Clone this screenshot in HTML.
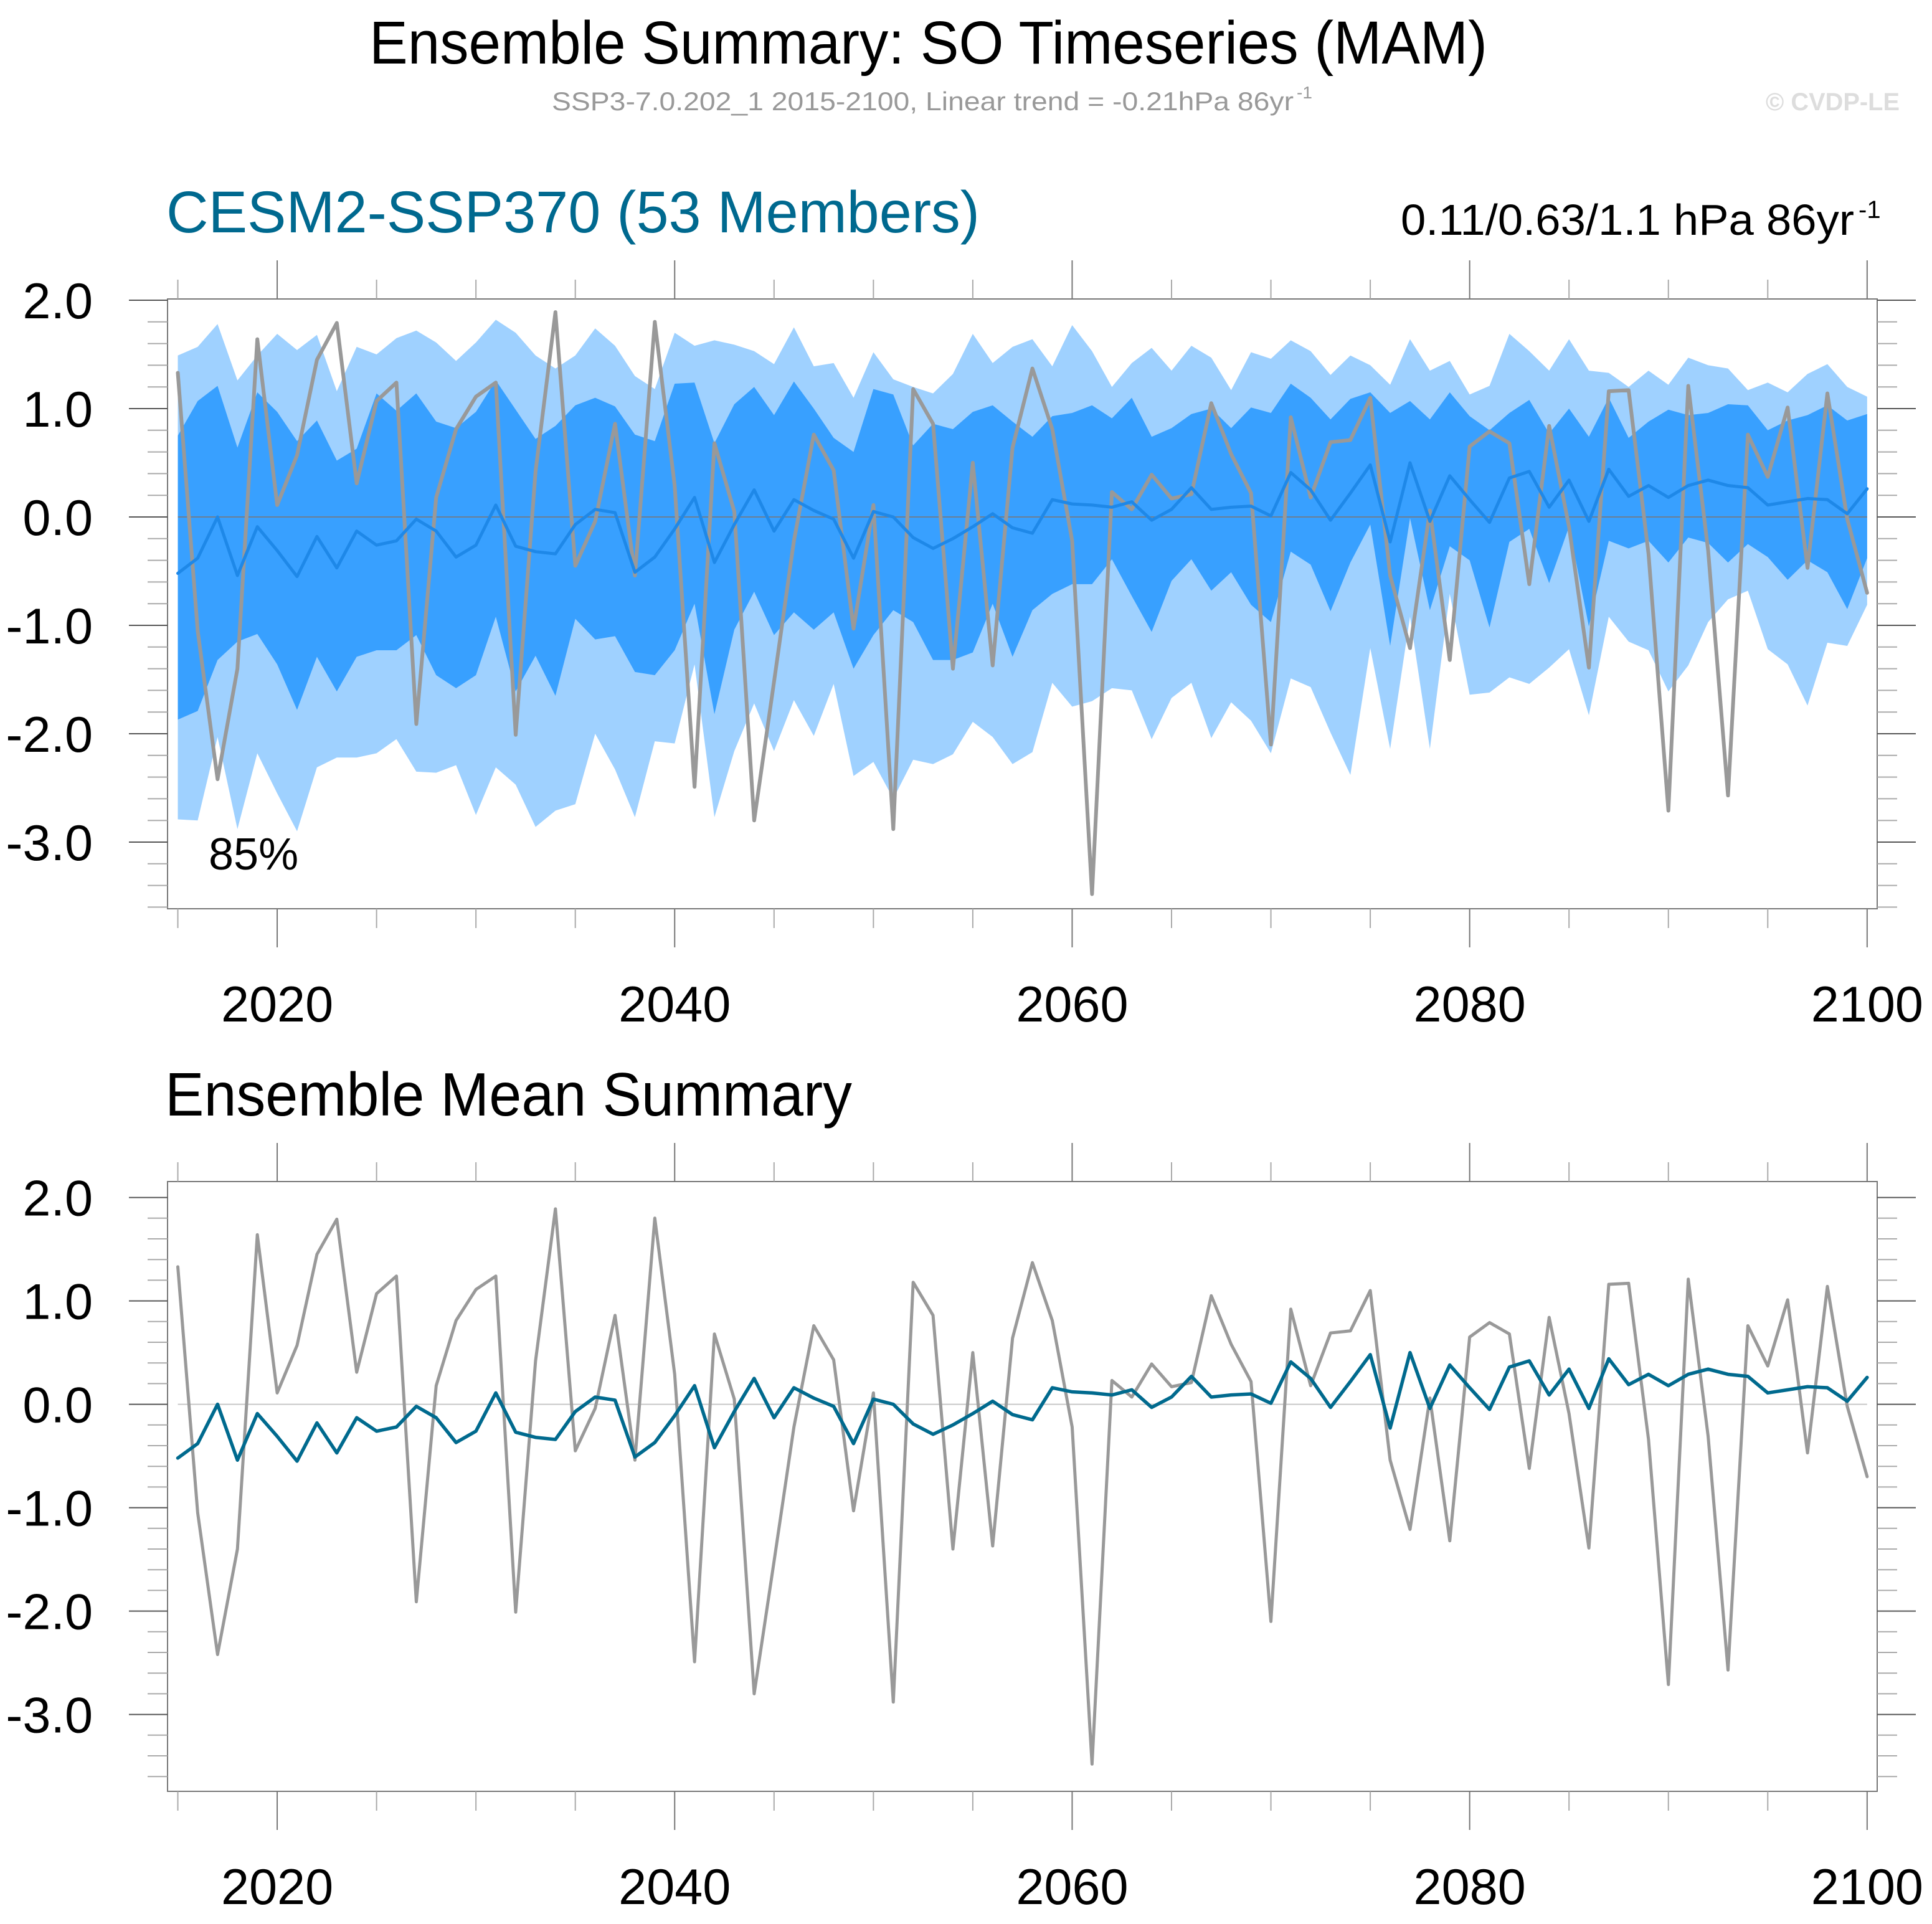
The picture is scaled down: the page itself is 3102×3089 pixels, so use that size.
<!DOCTYPE html>
<html><head><meta charset="utf-8"><style>
html,body{margin:0;padding:0;background:#fff;}
svg{display:block;font-family:"Liberation Sans",Arial,sans-serif;}
</style></head><body>
<svg id="chart" width="3102" height="3089" viewBox="0 0 3102 3089" xmlns="http://www.w3.org/2000/svg">
<text x="593" y="102" font-size="97" textLength="1795" lengthAdjust="spacingAndGlyphs">Ensemble Summary: SO Timeseries (MAM)</text>
<text x="886" y="177" font-size="42" fill="#999" textLength="1191" lengthAdjust="spacingAndGlyphs">SSP3-7.0.202_1 2015-2100, Linear trend = -0.21hPa 86yr</text>
<text x="2082" y="158" font-size="28" fill="#999">-1</text>
<text x="2835" y="177" font-size="40" font-weight="bold" fill="#ddd" textLength="215" lengthAdjust="spacingAndGlyphs">© CVDP-LE</text>
<text x="267" y="373" font-size="95" fill="#00698f" textLength="1306" lengthAdjust="spacingAndGlyphs">CESM2-SSP370 (53 Members)</text>
<text x="2249" y="377" font-size="70" textLength="728" lengthAdjust="spacingAndGlyphs">0.11/0.63/1.1 hPa 86yr</text>
<text x="2984" y="350" font-size="40">-1</text>
<text x="265" y="1791" font-size="98" textLength="1103" lengthAdjust="spacingAndGlyphs">Ensemble Mean Summary</text>
<g id="upper"></g>
<g id="lower"></g>
</svg>
<script>
const years = [];
for (let y = 2015; y <= 2100; y++) years.push(y);
const lightTop = [1.49,1.57,1.78,1.26,1.49,1.69,1.54,1.68,1.16,1.57,1.50,1.65,1.72,1.61,1.44,1.61,1.82,1.70,1.49,1.37,1.49,1.74,1.58,1.30,1.18,1.70,1.58,1.63,1.59,1.53,1.41,1.75,1.39,1.42,1.10,1.52,1.27,1.20,1.14,1.32,1.69,1.42,1.57,1.64,1.39,1.77,1.53,1.20,1.42,1.56,1.35,1.58,1.47,1.17,1.52,1.46,1.63,1.53,1.31,1.49,1.40,1.22,1.64,1.35,1.44,1.13,1.21,1.69,1.53,1.35,1.64,1.35,1.33,1.20,1.35,1.22,1.47,1.40,1.37,1.17,1.24,1.15,1.32,1.41,1.20,1.11];
const darkTop = [0.75,1.07,1.21,0.64,1.15,0.97,0.70,0.89,0.52,0.63,1.14,0.98,1.14,0.88,0.82,0.97,1.26,0.99,0.72,0.84,1.03,1.10,1.02,0.76,0.70,1.23,1.24,0.68,1.04,1.20,0.94,1.25,1.00,0.73,0.60,1.18,1.13,0.66,0.86,0.81,0.97,1.03,0.88,0.74,0.93,0.96,1.03,0.91,1.10,0.74,0.82,0.95,1.00,0.82,1.01,0.96,1.23,1.10,0.90,1.09,1.15,0.96,1.07,0.90,1.15,0.93,0.80,0.96,1.08,0.77,1.00,0.74,1.10,0.73,0.88,0.99,0.94,0.96,1.04,1.03,0.80,0.89,0.94,1.03,0.89,0.95];
const darkBot = [-1.87,-1.79,-1.32,-1.15,-1.08,-1.36,-1.78,-1.29,-1.61,-1.29,-1.23,-1.23,-1.09,-1.46,-1.58,-1.46,-0.92,-1.61,-1.28,-1.65,-0.94,-1.13,-1.10,-1.43,-1.46,-1.23,-0.80,-1.82,-1.04,-0.69,-1.09,-0.88,-1.04,-0.88,-1.40,-1.09,-0.86,-0.97,-1.32,-1.32,-1.25,-0.80,-1.29,-0.86,-0.71,-0.62,-0.62,-0.39,-0.73,-1.06,-0.59,-0.39,-0.68,-0.51,-0.81,-0.97,-0.32,-0.44,-0.87,-0.42,-0.07,-1.19,-0.01,-0.86,-0.27,-0.40,-1.02,-0.23,-0.11,-0.61,-0.09,-1.01,-0.22,-0.29,-0.22,-0.42,-0.19,-0.24,-0.42,-0.25,-0.37,-0.58,-0.40,-0.51,-0.85,-0.38];
const lightBot = [-2.79,-2.80,-2.03,-2.88,-2.18,-2.55,-2.90,-2.31,-2.22,-2.22,-2.18,-2.05,-2.35,-2.36,-2.29,-2.75,-2.31,-2.47,-2.86,-2.71,-2.65,-2.00,-2.33,-2.77,-2.07,-2.09,-1.36,-2.77,-2.16,-1.72,-2.16,-1.69,-2.02,-1.54,-2.39,-2.26,-2.60,-2.24,-2.28,-2.19,-1.89,-2.03,-2.28,-2.17,-1.53,-1.75,-1.70,-1.58,-1.60,-2.05,-1.67,-1.53,-2.04,-1.71,-1.88,-2.18,-1.49,-1.57,-1.99,-2.38,-1.21,-2.14,-0.92,-2.14,-0.71,-1.64,-1.62,-1.48,-1.54,-1.39,-1.22,-1.83,-0.92,-1.15,-1.23,-1.61,-1.37,-0.97,-0.76,-0.68,-1.22,-1.36,-1.74,-1.16,-1.19,-0.81];
const ensMean = [-0.52,-0.38,0.00,-0.54,-0.09,-0.31,-0.55,-0.18,-0.47,-0.13,-0.26,-0.22,-0.02,-0.13,-0.37,-0.26,0.11,-0.27,-0.32,-0.34,-0.07,0.07,0.04,-0.51,-0.37,-0.11,0.18,-0.42,-0.07,0.25,-0.13,0.16,0.06,-0.02,-0.38,0.05,0.00,-0.19,-0.29,-0.20,-0.09,0.03,-0.10,-0.15,0.16,0.12,0.11,0.09,0.14,-0.03,0.07,0.27,0.07,0.09,0.10,0.01,0.41,0.25,-0.03,0.22,0.48,-0.23,0.50,-0.04,0.38,0.16,-0.05,0.36,0.42,0.09,0.34,-0.04,0.44,0.19,0.29,0.18,0.29,0.34,0.29,0.27,0.11,0.14,0.17,0.16,0.03,0.26];
const obs = [1.33,-1.05,-2.42,-1.40,1.64,0.11,0.57,1.45,1.79,0.31,1.07,1.24,-1.91,0.18,0.81,1.11,1.24,-2.01,0.42,1.89,-0.45,-0.04,0.86,-0.54,1.80,0.29,-2.49,0.68,0.05,-2.80,-1.52,-0.22,0.76,0.43,-1.03,0.11,-2.88,1.18,0.86,-1.40,0.50,-1.37,0.64,1.37,0.81,-0.22,-3.48,0.23,0.07,0.39,0.17,0.21,1.05,0.58,0.22,-2.10,0.92,0.18,0.69,0.71,1.10,-0.54,-1.21,0.06,-1.32,0.65,0.79,0.68,-0.62,0.84,-0.09,-1.39,1.16,1.17,-0.34,-2.71,1.21,-0.31,-2.57,0.76,0.37,1.01,-0.47,1.14,-0.02,-0.70];
const yTicks = [2, 1, 0, -1, -2, -3];
const yTickLabels = ["2.0", "1.0", "0.0", "-1.0", "-2.0", "-3.0"];
const xTicks = [2020, 2040, 2060, 2080, 2100];

const NS = "http://www.w3.org/2000/svg";
function el(parent, tag, attrs) {
  const e = document.createElementNS(NS, tag);
  for (const k in attrs) e.setAttribute(k, attrs[k]);
  parent.appendChild(e);
  return e;
}
const X0 = 269, X1 = 3014;
function xs(year) { return 285.5 + (year - 2015) * 31.91; }

function drawPanel(g, top, bottom, zeroY, unit, upper) {
  const ys = v => zeroY - v * unit;
  const yMax = (zeroY - top) / unit, yMin = -(bottom - zeroY) / unit;
  if (upper) {
    let d = "";
    years.forEach((y, i) => { d += (i ? "L" : "M") + xs(y) + "," + ys(lightTop[i]); });
    for (let i = years.length - 1; i >= 0; i--) d += "L" + xs(years[i]) + "," + ys(lightBot[i]);
    const p1 = el(g, "path", { d: d + "Z", fill: "#9fd1ff" });
    
    
    d = "";
    years.forEach((y, i) => { d += (i ? "L" : "M") + xs(y) + "," + ys(darkTop[i]); });
    for (let i = years.length - 1; i >= 0; i--) d += "L" + xs(years[i]) + "," + ys(darkBot[i]);
    const p2 = el(g, "path", { d: d + "Z", fill: "#38a0ff" });
    
    
  }
  const zl = el(g, "line", { x1: xs(2015), x2: xs(2100), y1: ys(0), y2: ys(0), stroke: upper ? "#6a7f95" : "#c8c8c8", "stroke-width": 2 });
  
  
  const fr = el(g, "rect", { x: X0, y: top, width: X1 - X0, height: bottom - top, fill: "none", stroke: "#777", "stroke-width": 2 });
  
  
  for (let k = Math.ceil(yMin * 5 - 1e-6); k <= Math.floor(yMax * 5 + 1e-6); k++) {
    const v = k / 5, y = ys(v), major = (k % 5 === 0);
    const len = major ? 62 : 32;
    const t1 = el(g, "line", { x1: X0 - len, x2: X0, y1: y, y2: y, stroke: major ? "#555" : "#aaa", "stroke-width": 2 });
    
    
    const t2 = el(g, "line", { x1: X1, x2: X1 + len, y1: y, y2: y, stroke: major ? "#555" : "#aaa", "stroke-width": 2 });
    
    
  }
  yTicks.forEach((v, i) => {
    const t = el(g, "text", { x: 149, y: ys(v) + 29, "font-size": 81, "text-anchor": "end" });
    t.textContent = yTickLabels[i];
    
    
  });
  for (let yr = 2015; yr <= 2100; yr += 5) {
    const major = (yr % 20 === 0), len = major ? 62 : 31, x = xs(yr);
    const a = el(g, "line", { x1: x, x2: x, y1: top - len, y2: top, stroke: major ? "#777" : "#aaa", "stroke-width": 2 });
    
    
    const b = el(g, "line", { x1: x, x2: x, y1: bottom, y2: bottom + len, stroke: major ? "#777" : "#aaa", "stroke-width": 2 });
    
    
  }
  xTicks.forEach(yr => {
    const t = el(g, "text", { x: xs(yr), y: bottom + 181, "font-size": 81, "text-anchor": "middle" });
    t.textContent = String(yr);
    
    
  });
  const pts = arr => arr.map((v, i) => xs(years[i]) + "," + ys(v)).join(" ");
  const go = el(g, "polyline", { points: pts(obs), fill: "none", stroke: "#999999", "stroke-width": upper ? 6 : 5, "stroke-linejoin": "round", "stroke-linecap": "round" });
  
  
  const mn = el(g, "polyline", { points: pts(ensMean), fill: "none", stroke: upper ? "#1e88e8" : "#006a8e", "stroke-width": upper ? 5 : 5.5, "stroke-linejoin": "round", "stroke-linecap": "round" });
  
  
}
drawPanel(document.getElementById("upper"), 480, 1459, 830, 174, true);
drawPanel(document.getElementById("lower"), 1897, 2876, 2254.6, 166, false);
const pct = el(document.getElementById("upper"), "text", { x: 335, y: 1396, "font-size": 72 });
pct.textContent = "85%";


</script>
</body></html>
